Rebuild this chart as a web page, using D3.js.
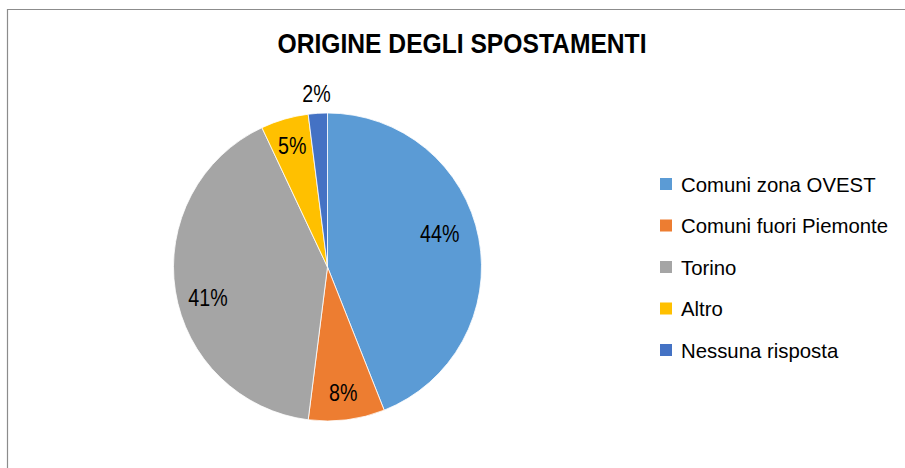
<!DOCTYPE html>
<html>
<head>
<meta charset="utf-8">
<script src="https://cdn.jsdelivr.net/npm/d3@7"></script>
<style>
  html, body { margin: 0; padding: 0; background: #fff; }
  svg { display: block; }
</style>
</head>
<body>
<svg id="chart" width="905" height="468"></svg>
<script>
const title = "ORIGINE DEGLI SPOSTAMENTI";
const categories = ["Comuni zona OVEST", "Comuni fuori Piemonte", "Torino", "Altro", "Nessuna risposta"];
const values = [44, 8, 41, 5, 2];
const colors = ["#5B9BD5", "#ED7D31", "#A5A5A5", "#FFC000", "#4472C4"];

const W = 905, H = 468;
const svg = d3.select("#chart");
const font = "'Liberation Sans', Arial, sans-serif";

// chart area border
svg.append("path")
  .attr("d", `M7.5,${H} L7.5,9.5 L${W},9.5`)
  .attr("fill", "none")
  .attr("stroke", "#8c8c8c")
  .attr("stroke-width", 1.2);

// title
svg.append("text")
  .attr("x", 462).attr("y", 53)
  .attr("text-anchor", "middle")
  .attr("font-family", font)
  .attr("font-weight", "bold")
  .attr("font-size", 28)
  .attr("textLength", 369)
  .attr("lengthAdjust", "spacingAndGlyphs")
  .attr("fill", "#000")
  .text(title);

const cx = 327.5, cy = 267, R = 154;
const data = categories.map((c, i) => ({ name: c, value: values[i], color: colors[i] }));
const pie = d3.pie().value(d => d.value).sort(null);
const arcs = pie(data);
const arc = d3.arc().innerRadius(0).outerRadius(R);

const g = svg.append("g").attr("transform", `translate(${cx},${cy})`);
g.selectAll("path.slice").data(arcs).enter().append("path")
  .attr("class", "slice")
  .attr("d", arc)
  .attr("fill", d => d.data.color)
  .attr("stroke", "#fff")
  .attr("stroke-width", 0.8);

const total = d3.sum(values);
const fmt = v => Math.round(v / total * 100) + "%";
g.selectAll("text.lbl").data(arcs).enter().append("text")
  .attr("class", "lbl")
  .each(function(d) {
    const frac = d.data.value / total;
    let rr = R * 0.82, a = (d.startAngle + d.endAngle) / 2;
    if (frac < 0.03) rr = R * 1.13;
    else if (frac > 0.42) { rr = R * 0.76; a -= 0.1; }
    else if (frac > 0.3) { rr = R * 0.8; a -= 0.09; }
    const x = Math.sin(a) * rr, y = -Math.cos(a) * rr;
    d3.select(this).attr("x", x).attr("y", y + 8.5);
  })
  .attr("text-anchor", "middle")
  .attr("font-family", font)
  .attr("font-size", 24)
  .attr("fill", "#000")
  .style("transform-box", "fill-box")
  .style("transform-origin", "center")
  .style("transform", "scaleX(0.82)")
  .text(d => fmt(d.data.value));

// legend
const legY = d3.scalePoint().domain(categories).range([184, 350]);
const leg = svg.append("g");
const items = leg.selectAll("g").data(data).enter().append("g")
  .attr("transform", d => `translate(660,${legY(d.name)})`);
items.append("rect")
  .attr("x", 0).attr("y", -6).attr("width", 12).attr("height", 12)
  .attr("fill", d => d.color);
items.append("text")
  .attr("x", 21).attr("y", 7.5)
  .attr("font-family", font)
  .attr("font-size", 21)
  .attr("fill", "#000")
  .style("transform-box", "fill-box")
  .style("transform-origin", "left")
  .style("transform", "scaleX(0.97)")
  .text(d => d.name);
</script>
</body>
</html>
